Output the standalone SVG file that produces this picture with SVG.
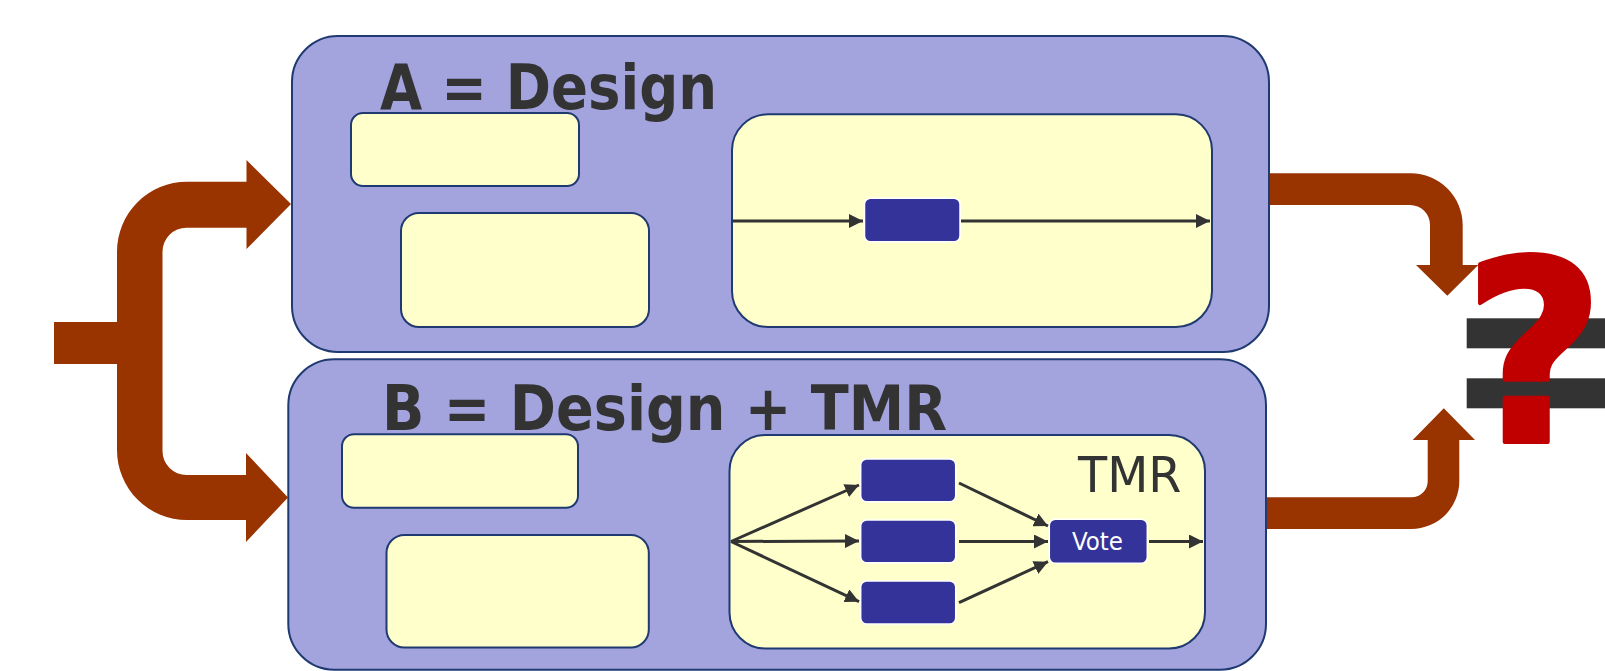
<svg xmlns="http://www.w3.org/2000/svg" width="1605" height="671" viewBox="0 0 1605 671">
  <style>
    .flow { fill: #993300; }
    .outer { fill: #A3A3DE; stroke: #1F3A70; stroke-width: 2; }
    .pane { fill: #FFFFCC; stroke: #1F3A70; stroke-width: 2; }
    .block { fill: #333399; stroke: #FFFFFF; stroke-width: 1.5; }
    .wire { stroke: #333333; stroke-width: 3; fill: none; marker-end: url(#head); }
    .title { font-family: "DejaVu Sans Condensed", "DejaVu Sans", sans-serif; font-weight: bold; font-size: 62px; fill: #333333; }
    .tag { font-family: "DejaVu Sans", sans-serif; font-size: 50px; fill: #333333; }
    .vote { font-family: "DejaVu Sans Condensed", "DejaVu Sans", sans-serif; font-size: 25px; fill: #FFFFFF; }
    .bar { fill: #333333; }
    .ask { font-family: "DejaVu Sans", sans-serif; font-weight: bold; font-size: 244px; fill: #C00000; stroke: #C00000; stroke-width: 4; stroke-linejoin: round; }
  </style>
  <defs>
    <marker id="head" viewBox="0 0 14 14" refX="14" refY="7" markerWidth="14" markerHeight="14" markerUnits="userSpaceOnUse" orient="auto">
      <path d="M0,0 L14,7 L0,14 Z" fill="#333333"/>
    </marker>
  </defs>

  <!-- wide brown flow arrows: split on the left, merge on the right -->
  <g id="flows">
    <rect class="flow" x="54" y="322" width="66" height="42"/>
    <path class="flow" d="M291 204 L246.5 160 L246.5 181.7 L187 181.7 A70 70 0 0 0 117 251.7 L117 450 A70 70 0 0 0 187 520 L246 520 L246 542 L288 497.5 L246 453 L246 475 L186.5 475 A24 24 0 0 1 162.5 451 L162.5 251.7 A24 24 0 0 1 186.5 227.7 L246.5 227.7 L246.5 249 Z"/>
    <path class="flow" d="M1262 173.3 L1410.7 173.3 A52 52 0 0 1 1462.7 225.3 L1462.7 265 L1478.3 265 L1447.3 295.7 L1416 265 L1430 265 L1430 225 A20 20 0 0 0 1410 205 L1262 205 Z"/>
    <path class="flow" d="M1262 529 L1411.3 529 A48 48 0 0 0 1459.3 481 L1459.3 440 L1475 440 L1443.8 408.3 L1412.7 440 L1427.7 440 L1427.7 481.3 A16 16 0 0 1 1411.7 497.3 L1262 497.3 Z"/>
  </g>

  <!-- design A -->
  <g id="designA">
    <rect class="outer" x="292" y="36" width="977" height="316" rx="46" ry="46"/>
    <text class="title" x="380" y="109" textLength="337" lengthAdjust="spacingAndGlyphs">A = Design</text>
    <rect class="pane" x="351" y="113" width="228" height="73" rx="12" ry="12"/>
    <rect class="pane" x="401" y="213" width="248" height="114" rx="18" ry="18"/>
    <rect class="pane" x="732" y="114.3" width="480" height="212.7" rx="36" ry="36"/>
  </g>
  <g id="blockA">
    <rect class="block" x="864.5" y="198.3" width="95.5" height="43.4" rx="6" ry="6"/>
  </g>

  <!-- design B with triple modular redundancy -->
  <g id="designB">
    <rect class="outer" x="288.3" y="359.3" width="977.7" height="310.5" rx="46" ry="46"/>
    <text class="title" x="382" y="430" textLength="565" lengthAdjust="spacingAndGlyphs">B = Design + TMR</text>
    <rect class="pane" x="342" y="434.3" width="236" height="73.4" rx="12" ry="12"/>
    <rect class="pane" x="386.5" y="535" width="262.3" height="112.5" rx="18" ry="18"/>
    <rect class="pane" x="729.5" y="435" width="475.5" height="213.5" rx="36" ry="36"/>
    <text class="tag" x="1078" y="491.7" textLength="103.5" lengthAdjust="spacingAndGlyphs">TMR</text>
  </g>
  <g id="copy1"><rect class="block" x="860.7" y="459" width="95" height="42.7" rx="6" ry="6"/></g>
  <g id="copy2"><rect class="block" x="860.7" y="520" width="95" height="42.7" rx="6" ry="6"/></g>
  <g id="copy3"><rect class="block" x="860.7" y="581" width="95" height="43" rx="6" ry="6"/></g>
  <g id="voter">
    <rect class="block" x="1049.3" y="519.3" width="98" height="44" rx="6" ry="6"/>
    <text class="vote" x="1097.5" y="550" text-anchor="middle" textLength="51" lengthAdjust="spacingAndGlyphs">Vote</text>
  </g>

  <!-- signal wires -->
  <g id="wires">
    <line class="wire" x1="733" y1="221" x2="863" y2="221"/>
    <line class="wire" x1="961" y1="221" x2="1210" y2="221"/>
    <line class="wire" x1="731" y1="541.5" x2="859" y2="485"/>
    <line class="wire" x1="731" y1="541.5" x2="859" y2="541"/>
    <line class="wire" x1="731" y1="541.5" x2="859" y2="601.7"/>
    <line class="wire" x1="959" y1="483" x2="1048" y2="526"/>
    <line class="wire" x1="959" y1="541.5" x2="1048" y2="541.5"/>
    <line class="wire" x1="959" y1="602.7" x2="1048" y2="561.7"/>
    <line class="wire" x1="1149" y1="541.5" x2="1203" y2="541.5"/>
  </g>

  <!-- equality in question -->
  <g id="verdict">
    <rect class="bar" x="1466.7" y="318.3" width="140" height="30"/>
    <rect class="bar" x="1466.7" y="378.3" width="140" height="30"/>
    <text class="ask" x="1534" y="442" text-anchor="middle" transform="translate(0 442) scale(1 1.04) translate(0 -442)">?</text>
  </g>
</svg>
